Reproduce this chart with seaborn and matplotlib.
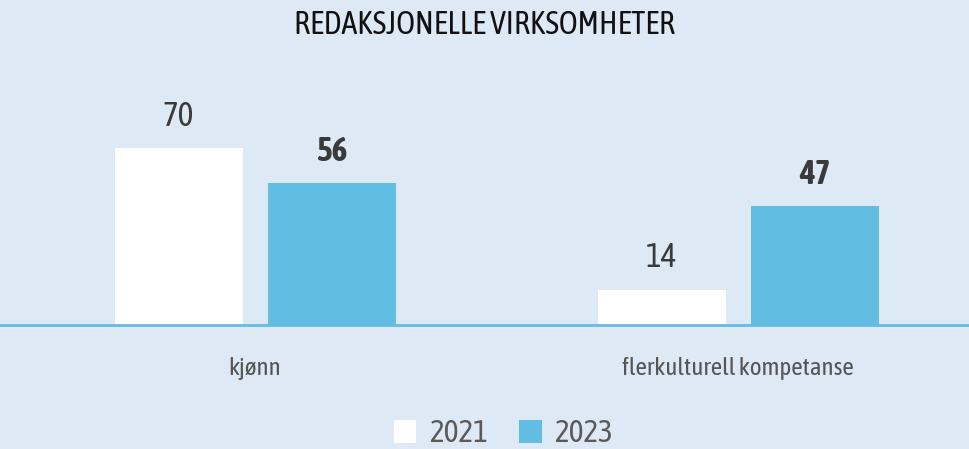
import pandas as pd
import matplotlib
matplotlib.use('Agg')
import matplotlib.pyplot as plt
import seaborn as sns
from matplotlib import font_manager

# Data
categories = ['kjønn', 'flerkulturell kompetanse']
years = ['2021', '2023']
values_2021 = [70, 14]
values_2023 = [56, 47]

df = pd.DataFrame({
    'kategori': categories * 2,
    'år': [years[0]] * 2 + [years[1]] * 2,
    'andel': values_2021 + values_2023,
})

bg = '#DDE9F5'
blue = '#62BDE2'

sns.set_theme(style='white')

# pick a narrow family, preferably one that also has a bold face
fonts = font_manager.fontManager.ttflist
narrow = sorted({f.name for f in fonts if any(k in f.name for k in ('Condensed', 'Narrow', 'Oswald'))})
with_bold = [n for n in narrow
             if any(f.name == n and (f.weight in (600, 700, 'bold', 'semibold')) for f in fonts)]
font = (with_bold or narrow or ['Roboto'])[0]
plt.rcParams['font.family'] = [font, 'DejaVu Sans']

fig = plt.figure(figsize=(9.69, 4.49), dpi=100, facecolor=bg)
ax = fig.add_axes([0, 124 / 449, 1, 235 / 449])
ax.set_facecolor(bg)

sns.barplot(data=df, x='kategori', y='andel', hue='år', hue_order=years,
            palette={'2021': 'white', '2023': blue}, width=0.6335, gap=0.163,
            linewidth=0, saturation=1, ax=ax, legend=True)

ax.set_xlim(-0.528, 1.478)
ax.set_ylim(0, 92.9)

# value labels, 2023 in bold
for cont, weight in zip(ax.containers, ['normal', 'bold']):
    ax.bar_label(cont, padding=11, fontsize=24, color='#3a3a3a', fontweight=weight)

for s in ['left', 'right', 'top']:
    ax.spines[s].set_visible(False)
ax.spines['bottom'].set_color(blue)
ax.spines['bottom'].set_linewidth(2)
ax.set_yticks([])
ax.set_xlabel('')
ax.set_ylabel('')
ax.tick_params(axis='x', length=0, pad=23, labelsize=18, labelcolor='#555555')

# legend at the bottom
handles, labels = ax.get_legend_handles_labels()
ax.get_legend().remove()
fig.legend(handles, labels, loc='center', bbox_to_anchor=(503.5 / 969, 1 - 434 / 449),
           ncol=2, frameon=False, fontsize=22.5, labelcolor='#5a5a5a',
           handlelength=0.72, handleheight=0.72, handletextpad=0.4, columnspacing=1.0)

fig.text(0.5, 1 - 25 / 449, 'REDAKSJONELLE VIRKSOMHETER', ha='center', va='center',
         fontsize=23, color='#111111')

fig.savefig('out.png', dpi=100, facecolor=bg)
